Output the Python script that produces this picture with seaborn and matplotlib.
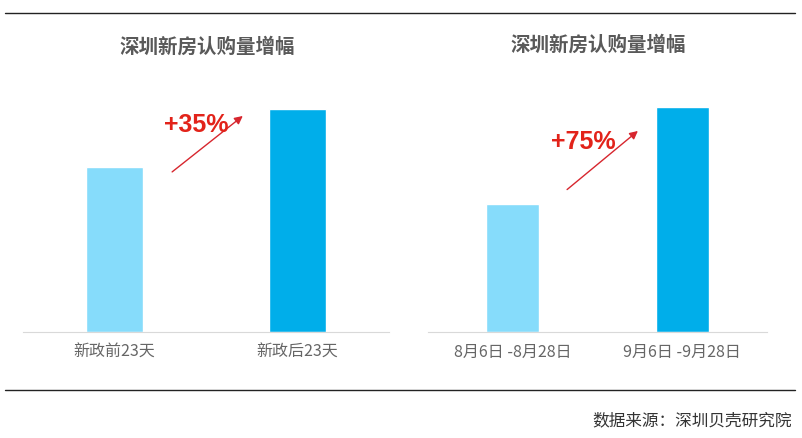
import seaborn as sns
import matplotlib.pyplot as plt
from matplotlib.lines import Line2D

sns.set_style('white')
plt.rcParams['font.family'] = ['Noto Sans CJK SC', 'DejaVu Sans']

# data (index values)
left_cats = ['新政前23天', '新政后23天']
left_vals = [100, 135]
right_cats = ['8月6日 -8月28日', '9月6日 -9月28日']
right_vals = [100, 176]
colors = ['#86dcfb', '#00aeea']
title = '深圳新房认购量增幅'

W, H = 803, 439
fig = plt.figure(figsize=(W / 100, H / 100), dpi=100)

def px_ax(x0, x1, y_base, y_top):
    return fig.add_axes([x0 / W, 1 - y_base / H, (x1 - x0) / W, (y_base - y_top) / H])

ax1 = px_ax(23, 389, 333, 90)
ax2 = px_ax(428, 767, 333, 90)

for ax, cats, vals, ymax, w in [(ax1, left_cats, left_vals, 147.3, 0.31),
                                (ax2, right_cats, right_vals, 190, 0.31)]:
    sns.barplot(x=cats, y=vals, hue=cats, palette=colors, width=w,
                legend=False, ax=ax, saturation=1)
    ax.set_xlim(-0.5, 1.5)
    ax.set_ylim(0, ymax)
    ax.set_yticks([])
    for s in ['top', 'right', 'left']:
        ax.spines[s].set_visible(False)
    ax.spines['bottom'].set_color('#d9d9d9')
    ax.tick_params(axis='x', which='major', length=0, pad=8, labelsize=11.5, labelcolor='#666666')
    ax.set_xticks([-0.5, 0.5, 1.5], minor=True)
    ax.tick_params(axis='x', which='minor', length=5, color='#d9d9d9')
    ax.set_xlabel('')
    ax.set_ylabel('')

# growth annotations
ax1.annotate('', xy=(0.713, 132), xytext=(0.303, 96),
             arrowprops=dict(arrowstyle='-|>', color='#d7262e', lw=1, mutation_scale=12))
ax1.text(0.445, 126, '+35%', color='#e2231a', fontsize=18, fontweight='bold',
         ha='center', va='center', family=['Liberation Sans', 'DejaVu Sans'])
ax2.annotate('', xy=(0.751, 158.6), xytext=(0.308, 110),
             arrowprops=dict(arrowstyle='-|>', color='#d7262e', lw=1, mutation_scale=12))
ax2.text(0.414, 149, '+75%', color='#e2231a', fontsize=18, fontweight='bold',
         ha='center', va='center', family=['Liberation Sans', 'DejaVu Sans'])

# titles
fig.text(207 / W, 1 - 47 / H, title, ha='center', va='center', fontsize=14,
         fontweight='bold', color='#595959')
fig.text(598 / W, 1 - 45 / H, title, ha='center', va='center', fontsize=14,
         fontweight='bold', color='#595959')

# frame lines and source
fig.add_artist(Line2D([5 / W, 795 / W], [1 - 14 / H, 1 - 14 / H], color='#222222', lw=1))
fig.add_artist(Line2D([5 / W, 795 / W], [1 - 391 / H, 1 - 391 / H], color='#222222', lw=1))
fig.text(792 / W, 1 - 421 / H, '数据来源：深圳贝壳研究院', ha='right', va='center',
         fontsize=12, color='#333333')

plt.savefig('out.png', dpi=100)
